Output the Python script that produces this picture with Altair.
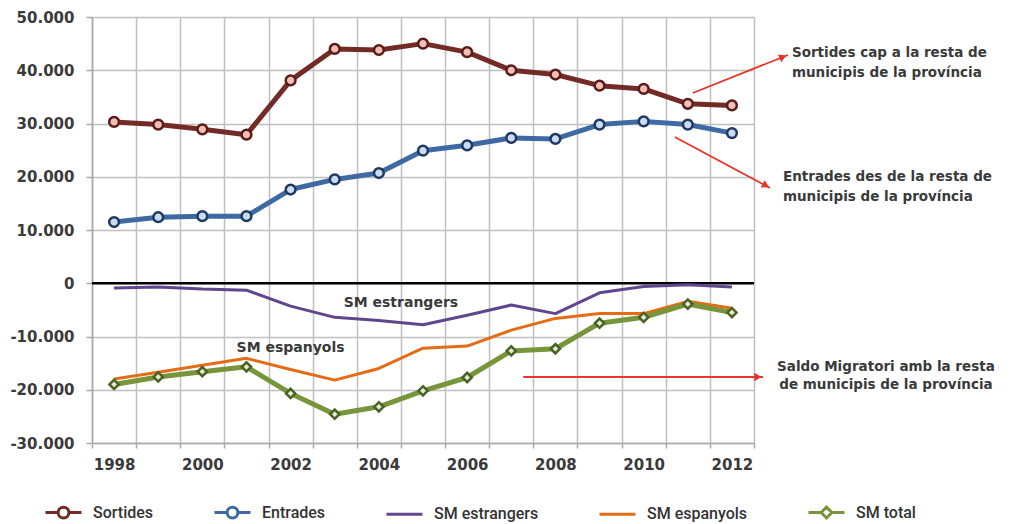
import altair as alt
import pandas as pd

# ---------------- data ----------------
years = list(range(1998, 2013))
sortides = [30300, 29800, 28900, 27900, 38100, 44000, 43800, 45000, 43400, 40000, 39200, 37100, 36500, 33700, 33400]
entrades = [11500, 12400, 12600, 12600, 17600, 19500, 20700, 24900, 25900, 27300, 27100, 29800, 30400, 29800, 28200]
sm_estrangers = [-900, -700, -1100, -1300, -4300, -6400, -7000, -7800, -6000, -4100, -5700, -1800, -600, -300, -700]
sm_espanyols = [-18000, -16700, -15400, -14100, -16200, -18200, -16000, -12200, -11800, -8800, -6600, -5700, -5700, -3400, -4700]
sm_total = [-19000, -17600, -16600, -15700, -20700, -24600, -23200, -20200, -17700, -12700, -12300, -7500, -6400, -3900, -5500]

series_names = ["Sortides", "Entrades", "SM estrangers", "SM espanyols", "SM total"]
series_values = [sortides, entrades, sm_estrangers, sm_espanyols, sm_total]
y_ticks = [-30000, -20000, -10000, 0, 10000, 20000, 30000, 40000, 50000]

note_sortides = ["Sortides cap a la resta de", "municipis de la província"]
note_entrades = ["Entrades des de la resta de", "municipis de la província"]
note_saldo = ["Saldo Migratori amb la resta", "de municipis de la província"]

rows = []
for name, vals in zip(series_names, series_values):
    for yr, v in zip(years, vals):
        rows.append({"year": yr, "value": v, "series": name})
df = pd.DataFrame(rows)

# ---------------- styles ----------------
line_colors = ["#722b26", "#3e69a3", "#60468c", "#e46c16", "#77953a"]
line_widths = [5, 5, 3, 3, 5]
marker_style = {
    "Sortides": dict(shape="circle", fill="#f5bdb8", stroke="#5a1c18"),
    "Entrades": dict(shape="circle", fill="#cadcf2", stroke="#1f3a62"),
    "SM total": dict(shape="diamond", fill="#e4edd2", stroke="#4a6224"),
}
TXT = "#3a3a3a"
GRID = "#c0c0c0"
RED = "#e8332a"

color_scale = alt.Scale(domain=series_names, range=line_colors)

x_axis = alt.Axis(
    title=None, tickBand="extent", grid=True, gridColor=GRID, gridWidth=1.5,
    domain=True, domainColor="#a8a8a8", domainWidth=1.5,
    ticks=True, tickColor="#a8a8a8", tickSize=5, tickWidth=1.5,
    labelAngle=0, labelExpr="datum.value % 2 == 0 ? datum.label : ''",
    labelFont="DejaVu Sans", labelFontWeight="bold", labelFontSize=15,
    labelColor=TXT, labelPadding=9,
)
y_axis = alt.Axis(
    title=None, values=y_ticks, grid=True, gridColor=GRID, gridWidth=1.5,
    domain=True, domainColor="#a8a8a8", domainWidth=1.5,
    ticks=True, tickColor="#a8a8a8", tickSize=6, tickWidth=1.5,
    labelExpr="replace(replace(format(datum.value, ','), ',', '.'), '\u2212', '-')",
    labelFont="DejaVu Sans", labelFontWeight="bold", labelFontSize=15,
    labelColor=TXT, labelPadding=12,
)

x_enc = alt.X("year:O", bandPosition=0.5,
              scale=alt.Scale(type="band", paddingInner=0, paddingOuter=0), axis=x_axis)
y_enc = alt.Y("value:Q", scale=alt.Scale(domain=[-30000, 50000], nice=False, zero=False), axis=y_axis)

base = alt.Chart(df)
layers = []

# zero line
layers.append(
    alt.Chart(pd.DataFrame({"z": [0]})).mark_rule(color="black", strokeWidth=2.5)
    .encode(y=alt.Y("z:Q"))
)

for name, col, lw in zip(series_names, line_colors, line_widths):
    layers.append(
        base.transform_filter(alt.datum.series == name)
        .mark_line(strokeWidth=lw, strokeJoin="round", color=col)
        .encode(x=x_enc, y=y_enc)
    )
    if name in marker_style:
        st = marker_style[name]
        layers.append(
            base.transform_filter(alt.datum.series == name)
            .mark_point(shape=st["shape"], filled=True, fill=st["fill"], stroke=st["stroke"],
                        strokeWidth=2.5, size=95 if st["shape"] == "circle" else 85, opacity=1)
            .encode(x=x_enc, y=y_enc)
        )

# legend-only layer (no rows), custom symbols: line + marker
circ = "M-1,0L-0.3,0M0.3,0L1,0M-0.3,0A0.3,0.3,0,1,1,0.3,0A0.3,0.3,0,1,1,-0.3,0Z"
plain = "M-1,0L1,0"
diam = "M-1,0L-0.3,0M0.3,0L1,0M-0.3,0L0,-0.3L0.3,0L0,0.3Z"
leg = alt.Legend(
    title=None, orient="none", legendX=-48, legendY=476, direction="horizontal",
    symbolSize=1296, symbolStrokeWidth=3, symbolOpacity=1, labelFont="Roboto", labelFontSize=16,
    labelFontWeight=500, labelColor="#333333", labelOffset=10, columnPadding=54,
)
layers.append(
    base.transform_filter("false")
    .mark_point(filled=False, strokeWidth=3, opacity=1)
    .encode(
        x=x_enc, y=y_enc,
        color=alt.Color("series:N", scale=color_scale, legend=leg),
        shape=alt.Shape("series:N", scale=alt.Scale(domain=series_names, range=[circ, circ, plain, plain, diam]), legend=leg),
    )
)

# inline labels (x anchored at band centre of a year, shifted by dx)
def text_layer(txt, yr, val, dx, align="left", size=14):
    return (
        alt.Chart(pd.DataFrame({"t": [txt]}))
        .mark_text(align=align, baseline="middle", dx=dx, font="DejaVu Sans", fontWeight="bold",
                   fontSize=size, color=TXT)
        .encode(x=alt.XDatum(yr, type="ordinal"), y=alt.YDatum(val, type="quantitative"), text="t:N")
    )

layers.append(text_layer("SM estrangers", 2004, -3700, 22, "center"))
layers.append(text_layer("SM espanyols", 2002, -12150, 0, "center"))

# notes outside the plot
layers.append(text_layer(note_sortides[0], 2012, 43240, 60, size=13.5))
layers.append(text_layer(note_sortides[1], 2012, 39480, 60, size=13.5))
layers.append(text_layer(note_entrades[0], 2012, 19950, 51, size=13.5))
layers.append(text_layer(note_entrades[1], 2012, 16200, 51, size=13.5))
layers.append(text_layer(note_saldo[0], 2012, -15730, 154, "center", size=13.5))
layers.append(text_layer(note_saldo[1], 2012, -19110, 154, "center", size=13.5))

# arrows
def arrow(y0, v0, off0, y1, v1, off1, hx, hv, ang):
    ln = (
        alt.Chart(pd.DataFrame({"a": [0]}))
        .mark_rule(color=RED, strokeWidth=1.8, xOffset=off0, x2Offset=off1)
        .encode(x=alt.XDatum(y0, type="ordinal"), x2=alt.X2Datum(y1),
                y=alt.YDatum(v0, type="quantitative"), y2=alt.Y2Datum(v1))
    )
    head = (
        alt.Chart(pd.DataFrame({"a": [0]}))
        .mark_point(shape="triangle-right", filled=True, color=RED, size=70, angle=ang,
                    xOffset=hx, opacity=1)
        .encode(x=alt.XDatum(y1, type="ordinal"), y=alt.YDatum(hv, type="quantitative"))
    )
    return [ln, head]

layers += arrow(2011, 35730, 5, 2012, 42860, 56, 51, 42500, 338)
layers += arrow(2011, 27465, -13, 2012, 17887, 38, 34, 18340, 28)
layers += arrow(2007, -17606, 12, 2012, -17606, 31, 26, -17606, 0)

chart = (
    alt.layer(*layers)
    .properties(width=662, height=426,
                autosize=alt.AutoSizeParams(type="none"),
                padding={"left": 92, "top": 17, "right": 257, "bottom": 81},
                background="white")
    .configure_view(strokeWidth=0)
)

chart.save("out.html", embed_options={"renderer": "svg", "actions": False})
